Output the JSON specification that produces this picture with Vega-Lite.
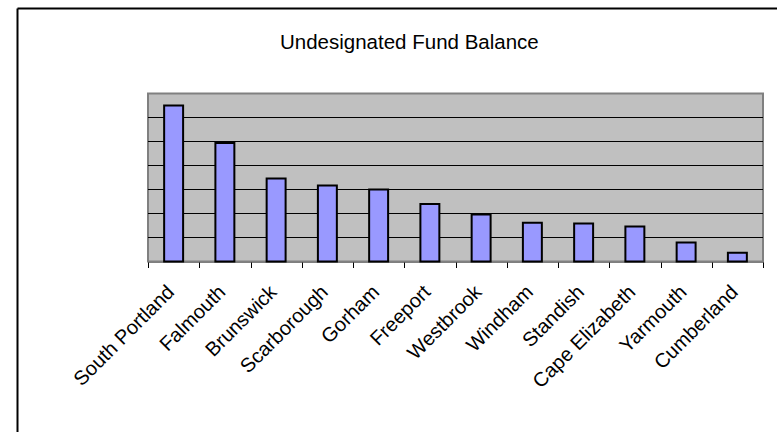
{
  "$schema": "https://vega.github.io/schema/vega-lite/v6.json",
  "autosize": "none",
  "padding": {"left": 17, "top": 8, "right": 0, "bottom": 0},
  "width": 760,
  "height": 424,
  "background": "white",
  "config": {
    "view": {"stroke": null},
    "font": "Liberation Sans"
  },
  "title": {
    "text": "Undesignated Fund Balance",
    "fontSize": 20.5,
    "fontWeight": "normal",
    "font": "Liberation Sans",
    "color": "black",
    "anchor": "start",
    "frame": "group",
    "baseline": "alphabetic",
    "offset": 0,
    "dx": 263,
    "dy": 61
  },
  "resolve": {
    "scale": {"x": "independent", "y": "independent"},
    "axis": {"x": "independent", "y": "independent"}
  },
  "layer": [
    {
      "data": {"values": [{}]},
      "mark": {"type": "point", "opacity": 0},
      "encoding": {
        "x": {
          "datum": 0, "type": "quantitative",
          "scale": {"domain": [0, 1], "range": [0, 760]},
          "axis": {"orient": "top", "domain": true, "domainColor": "black", "domainWidth": 2, "ticks": false, "labels": false, "grid": false, "title": null}
        },
        "y": {
          "datum": 0, "type": "quantitative",
          "scale": {"domain": [0, 1], "range": [424, 0]},
          "axis": {"orient": "left", "domain": true, "domainColor": "black", "domainWidth": 2, "ticks": false, "labels": false, "grid": false, "title": null}
        }
      }
    },
    {
      "data": {"values": [{}]},
      "mark": {"type": "rect", "fill": "#C0C0C0", "stroke": "#808080", "strokeWidth": 2},
      "encoding": {
        "x": {"datum": 0, "type": "quantitative", "scale": {"domain": [0, 1], "range": [131, 746]}, "axis": null},
        "x2": {"datum": 1},
        "y": {"datum": 0, "type": "quantitative", "scale": {"domain": [0, 7], "range": [253.5, 85.5]}, "axis": null},
        "y2": {"datum": 7}
      }
    },
    {
      "data": {"values": [{"g": 1}, {"g": 2}, {"g": 3}, {"g": 4}, {"g": 5}, {"g": 6}]},
      "mark": {"type": "rule", "color": "black", "strokeWidth": 1},
      "encoding": {
        "x": {"datum": 0, "type": "quantitative", "scale": {"domain": [0, 1], "range": [131, 746]}, "axis": null},
        "x2": {"datum": 1},
        "y": {"field": "g", "type": "quantitative", "scale": {"domain": [0, 7], "range": [253.5, 85.5]}, "axis": null}
      }
    },
    {
      "data": {
        "values": [
          {"town": "South Portland", "balance": 6.5},
          {"town": "Falmouth", "balance": 4.94},
          {"town": "Brunswick", "balance": 3.46},
          {"town": "Scarborough", "balance": 3.17},
          {"town": "Gorham", "balance": 3.0},
          {"town": "Freeport", "balance": 2.4},
          {"town": "Westbrook", "balance": 1.96},
          {"town": "Windham", "balance": 1.61},
          {"town": "Standish", "balance": 1.58},
          {"town": "Cape Elizabeth", "balance": 1.46},
          {"town": "Yarmouth", "balance": 0.79},
          {"town": "Cumberland", "balance": 0.36}
        ]
      },
      "mark": {"type": "bar", "fill": "#9999FF", "stroke": "black", "strokeWidth": 2, "width": {"band": 0.37}},
      "encoding": {
        "x": {
          "field": "town",
          "type": "nominal",
          "sort": null,
          "scale": {"range": [131, 746], "paddingInner": 0, "paddingOuter": 0},
          "axis": {
            "title": null,
            "orient": "bottom",
            "offset": -170.5,
            "domainColor": "black",
            "domainWidth": 1,
            "tickColor": "black",
            "tickSize": 6,
            "tickWidth": 1,
            "tickBand": "extent",
            "labelAngle": -45,
            "labelAlign": "right",
            "labelBaseline": "top",
            "labelOffset": -10,
            "labelPadding": 14,
            "labelFont": "Liberation Sans",
            "labelFontSize": 20,
            "labelColor": "black",
            "labelOverlap": false,
            "labelBound": false
          }
        },
        "y": {"field": "balance", "type": "quantitative", "scale": {"domain": [0, 7], "range": [253.5, 85.5]}, "axis": null}
      }
    }
  ]
}
